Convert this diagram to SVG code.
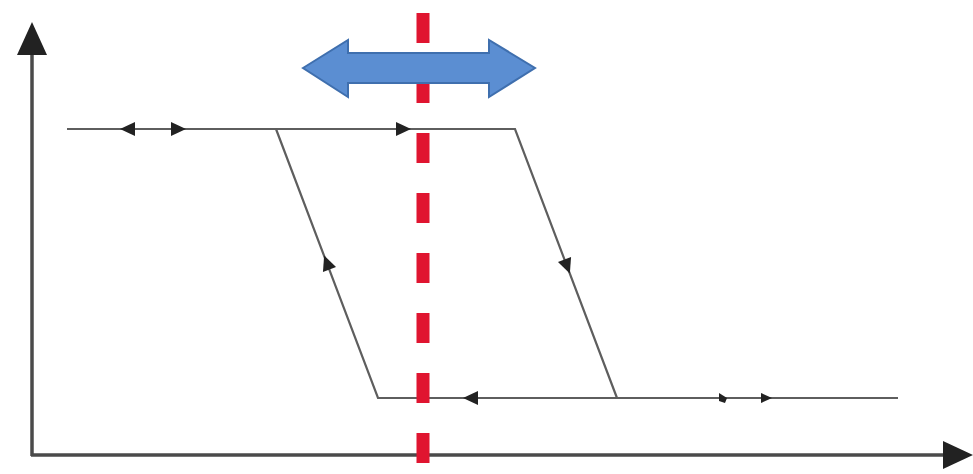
<svg xmlns="http://www.w3.org/2000/svg" width="973" height="474" viewBox="0 0 973 474">
  <style>
    .axis { stroke: #4a4a4a; stroke-width: 3.5; fill: none; }
    .loop { stroke: #5e5e5e; stroke-width: 2.2; fill: none; }
    .head { fill: #222; }
    .cut { stroke: #e01530; stroke-width: 13; stroke-dasharray: 30 30; stroke-dashoffset: 47; fill: none; }
    .shift { fill: #5b8ed2; stroke: #3f6fae; stroke-width: 2; }
  </style>

  <rect width="973" height="474" fill="#ffffff"/>

  <!-- axes -->
  <g id="axes">
    <line class="axis" x1="32" y1="456" x2="32" y2="48"/>
    <polygon class="head" points="32,22 17,55 47,55" fill="#2a2a2a"/>
    <line class="axis" x1="31" y1="455" x2="948" y2="455"/>
    <polygon class="head" points="973,455 943,441 943,469" fill="#2a2a2a"/>
  </g>

  <!-- hysteresis loop -->
  <g id="loop">
    <polyline class="loop" points="67,129 515,129 617,398"/>
    <polyline class="loop" points="276,129 378,398 898,398"/>
  </g>

  <!-- direction marks along the loop -->
  <g id="marks">
    <polygon class="head" points="120,129 135,122 135,136"/>
    <polygon class="head" points="186,129 171,122 171,136"/>
    <polygon class="head" points="411,129 396,122 396,136"/>
    <polygon class="head" points="463,398 478,391 478,405"/>
    <!-- upward on left branch -->
    <g transform="translate(327,263) rotate(-110.8)">
      <polygon class="head" points="8,0 -7,-7 -7,7"/>
    </g>
    <!-- downward on right branch -->
    <g transform="translate(567,266) rotate(69.2)">
      <polygon class="head" points="8,0 -7,-7 -7,7"/>
    </g>
    <polygon class="head" points="719,393 727,398 725,403 719,401"/>
    <polygon class="head" points="772,398 761,393 761,403"/>
  </g>

  <!-- shifting threshold line -->
  <g id="threshold">
    <line class="cut" x1="423" y1="0" x2="423" y2="465"/>
  </g>

  <!-- double-headed shift arrow -->
  <g id="shift-arrow">
    <polygon class="shift" points="303,68 348,40 348,53 489,53 489,40 535,68 489,97 489,83 348,83 348,97"/>
  </g>
</svg>
